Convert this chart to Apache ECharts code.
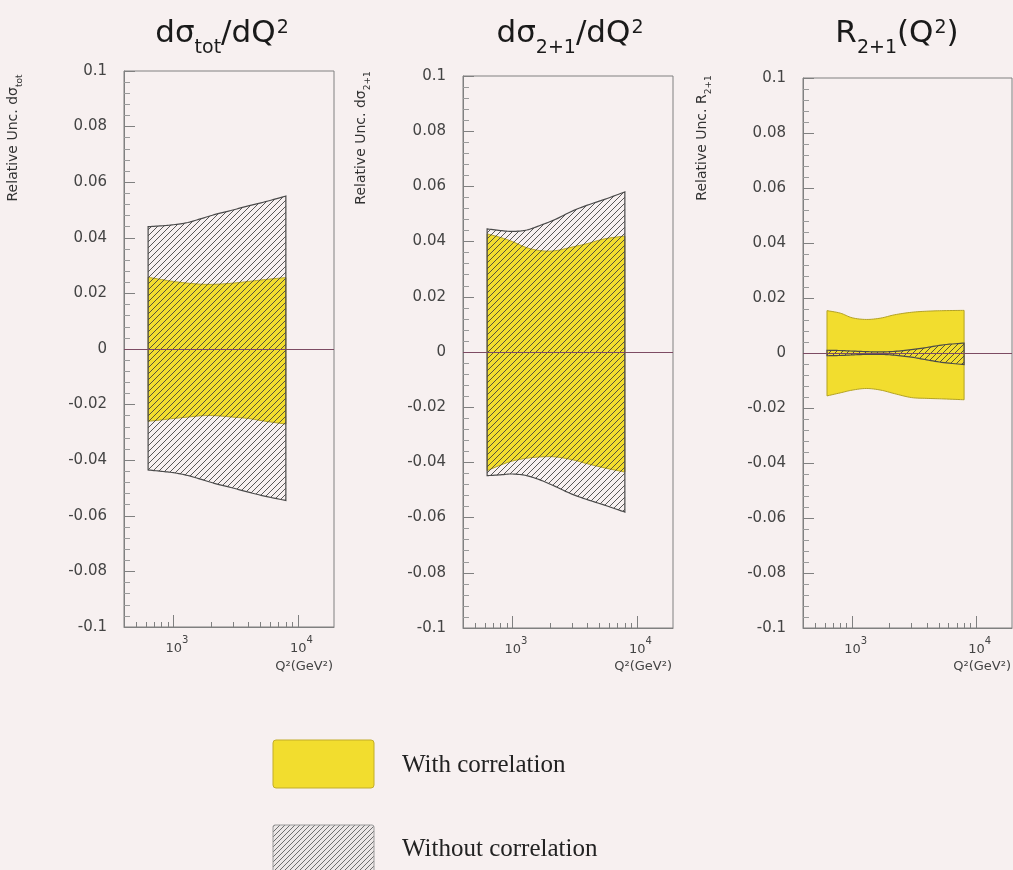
<!DOCTYPE html>
<html>
<head>
<meta charset="utf-8">
<script src="https://cdn.jsdelivr.net/npm/echarts@6.0.0/dist/echarts.min.js"></script>
<style>
html,body{margin:0;padding:0;background:#f7f0f0;}
#chart{width:1013px;height:870px;}
</style>
</head>
<body>
<div id="chart"></div>
<script>
// ---------------- data ----------------
// Q^2 sampling points (GeV^2)
const q2 = [625, 800, 1000, 1300, 1700, 2200, 3000, 4000, 5500, 8000];

// d sigma_tot / dQ^2
const totWithHi    = [0.0258, 0.0250, 0.0243, 0.0237, 0.0233, 0.0233, 0.0237, 0.0243, 0.0250, 0.0257];
const totWithLo    = [-0.0260, -0.0255, -0.0250, -0.0245, -0.0240, -0.0240, -0.0245, -0.0250, -0.0260, -0.0270];
const totWithoutHi = [0.0440, 0.0443, 0.0447, 0.0455, 0.0470, 0.0485, 0.0500, 0.0515, 0.0530, 0.0550];
const totWithoutLo = [-0.0435, -0.0440, -0.0445, -0.0455, -0.0470, -0.0485, -0.0500, -0.0515, -0.0530, -0.0545];

// d sigma_2+1 / dQ^2
const dijWithHi    = [0.0428, 0.0415, 0.0400, 0.0378, 0.0367, 0.0367, 0.0380, 0.0393, 0.0410, 0.0420];
const dijWithLo    = [-0.0430, -0.0410, -0.0395, -0.0385, -0.0380, -0.0380, -0.0390, -0.0405, -0.0420, -0.0435];
const dijWithoutHi = [0.0446, 0.0440, 0.0437, 0.0442, 0.0460, 0.0480, 0.0510, 0.0532, 0.0553, 0.0580];
const dijWithoutLo = [-0.0448, -0.0445, -0.0442, -0.0448, -0.0465, -0.0487, -0.0515, -0.0535, -0.0555, -0.0580];

// R_2+1(Q^2)
const rWithHi    = [0.0154, 0.0145, 0.0128, 0.0122, 0.0127, 0.0139, 0.0148, 0.0152, 0.0154, 0.0155];
const rWithLo    = [-0.0156, -0.0145, -0.0135, -0.0129, -0.0135, -0.0148, -0.0162, -0.0165, -0.0167, -0.0170];
const rWithoutHi = [0.0010, 0.0009, 0.0007, 0.0005, 0.0004, 0.0006, 0.0012, 0.0020, 0.0030, 0.0036];
const rWithoutLo = [-0.0010, -0.0009, -0.0007, -0.0005, -0.0005, -0.0008, -0.0015, -0.0025, -0.0035, -0.0042];

// axes
const xRange = [400, 19500];
const xMajorTicks = [1000, 10000];
const xMinorTicks = [500, 600, 700, 800, 900, 2000, 3000, 4000, 5000, 6000, 7000, 8000, 9000];
const yMin = -0.1, yMax = 0.1, yStep = 0.02;
const xAxisTitle = 'Q²(GeV²)';
const legendLabels = ['With correlation', 'Without correlation'];

// ---------------- styling ----------------
const SANS = 'DejaVu Sans';
const SERIF = 'Liberation Serif';
const YELLOW = '#f2dd2e';
const YELLOW_EDGE = '#b3a224';
const HATCH_EDGE = '#4a4a4a';
const AXIS_COL = '#808080';
const TXT = '#444';

function makeHatch(size, color, lw, bg) {
  const c = document.createElement('canvas');
  c.width = size; c.height = size;
  const ctx = c.getContext('2d');
  if (bg) { ctx.fillStyle = bg; ctx.fillRect(0, 0, size, size); }
  ctx.strokeStyle = color; ctx.lineWidth = lw;
  ctx.beginPath();
  ctx.moveTo(-1, size + 1); ctx.lineTo(size + 1, -1);
  ctx.moveTo(-1, 1); ctx.lineTo(1, -1);
  ctx.moveTo(size - 1, size + 1); ctx.lineTo(size + 1, size - 1);
  ctx.stroke();
  return c;
}
const hatchBand = { image: makeHatch(6, 'rgba(60,60,60,0.85)', 1, null), repeat: 'repeat' };
const hatchLegend = { image: makeHatch(5, '#6e6e6e', 1, '#ebe6e6'), repeat: 'repeat' };

// Catmull-Rom smoothing of pixel points (drawing style only; passes through every point)
function smoothPts(pts, steps) {
  const n = pts.length;
  if (n < 3) return pts.slice();
  const out = [];
  for (let i = 0; i < n - 1; i++) {
    const p0 = pts[Math.max(i - 1, 0)], p1 = pts[i], p2 = pts[i + 1], p3 = pts[Math.min(i + 2, n - 1)];
    for (let s = 0; s < steps; s++) {
      const t = s / steps, t2 = t * t, t3 = t2 * t;
      const f = (a, b, c, d) => 0.5 * (2 * b + (-a + c) * t + (2 * a - 5 * b + 4 * c - d) * t2 + (-a + 3 * b - 3 * c + d) * t3);
      out.push([f(p0[0], p1[0], p2[0], p3[0]), f(p0[1], p1[1], p2[1], p3[1])]);
    }
  }
  out.push(pts[n - 1]);
  return out;
}

function bandRenderer(fill, stroke, lw) {
  return function (params, api) {
    if (params.dataIndexInside !== 0) return null;
    const n = params.dataInsideLength;
    const up = [], dn = [];
    for (let j = 0; j < n; j++) {
      up.push(api.coord([api.value(0, j), api.value(2, j)]));
      dn.push(api.coord([api.value(0, j), api.value(1, j)]));
    }
    const U = smoothPts(up, 8), D = smoothPts(dn, 8);
    return {
      type: 'polygon', silent: true,
      shape: { points: U.concat(D.slice().reverse()) },
      style: { fill: fill, stroke: stroke, lineWidth: lw }
    };
  };
}

const panels = [
  { grid: { left: 124, top: 71, width: 210, height: 556 },
    title: '{a|dσ}{s|tot}{a|/dQ}{p|2}', titleX: 222,
    yName: '{a|Relative Unc. dσ}{s|tot}', yNameX: 13,
    withHi: totWithHi, withLo: totWithLo, woHi: totWithoutHi, woLo: totWithoutLo },
  { grid: { left: 463, top: 76, width: 210, height: 552 },
    title: '{a|dσ}{s|2+1}{a|/dQ}{p|2}', titleX: 570,
    yName: '{a|Relative Unc. dσ}{s|2+1}', yNameX: 361,
    withHi: dijWithHi, withLo: dijWithLo, woHi: dijWithoutHi, woLo: dijWithoutLo },
  { grid: { left: 803, top: 78, width: 209, height: 550 },
    title: '{a|R}{s|2+1}{a|(Q}{p|2}{a|)}', titleX: 897,
    yName: '{a|Relative Unc. R}{s|2+1}', yNameX: 702,
    withHi: rWithHi, withLo: rWithLo, woHi: rWithoutHi, woLo: rWithoutLo }
];

const titleRich = {
  a: { fontFamily: SANS, fontSize: 31, lineHeight: 48, verticalAlign: 'middle', color: '#1a1a1a' },
  s: { fontFamily: SANS, fontSize: 19, verticalAlign: 'bottom', color: '#1a1a1a' },
  p: { fontFamily: SANS, fontSize: 19, verticalAlign: 'top', padding: [9, 0, 0, 1], color: '#1a1a1a' }
};
const nameRich = {
  a: { fontFamily: SANS, fontSize: 14, lineHeight: 22, verticalAlign: 'middle', fill: '#333' },
  s: { fontFamily: SANS, fontSize: 9, lineHeight: 9, verticalAlign: 'bottom', fill: '#333' }
};

const lg = Math.log10;

// ---------------- option ----------------
const grids = [], xAxes = [], yAxes = [], series = [], titles = [], graphics = [];

panels.forEach((p, i) => {
  grids.push(Object.assign({ show: true, borderColor: AXIS_COL, borderWidth: 1,
    backgroundColor: 'transparent', outerBoundsMode: 'none', containLabel: false }, p.grid));

  // main x axis: decades + labels
  xAxes.push({
    type: 'value', gridIndex: i, min: lg(xRange[0]), max: lg(xRange[1]), position: 'bottom',
    axisLine: { show: true, onZero: false, lineStyle: { color: AXIS_COL, width: 1 } },
    axisTick: { show: true, inside: true, length: 12, customValues: xMajorTicks.map(lg),
                lineStyle: { color: AXIS_COL } },
    splitLine: { show: false },
    axisLabel: {
      customValues: xMajorTicks.map(lg), margin: 8,
      formatter: v => '{b|10}{s|' + Math.round(v) + '}',
      rich: {
        b: { fontFamily: SANS, fontSize: 13, lineHeight: 28, verticalAlign: 'middle', padding: [0, 0, 0, 7], color: TXT },
        s: { fontFamily: SANS, fontSize: 10, lineHeight: 10, verticalAlign: 'top', color: TXT }
      }
    }
  });
  // minor x ticks
  xAxes.push({
    type: 'value', gridIndex: i, min: lg(xRange[0]), max: lg(xRange[1]), position: 'bottom', offset: 0,
    axisLine: { show: false, onZero: false },
    axisTick: { show: true, inside: true, length: 5, customValues: xMinorTicks.map(lg),
                lineStyle: { color: AXIS_COL } },
    axisLabel: { show: false }, splitLine: { show: false }
  });

  yAxes.push({
    type: 'value', gridIndex: i, min: yMin, max: yMax, interval: yStep,
    axisLine: { show: true, onZero: false, lineStyle: { color: AXIS_COL, width: 1 } },
    axisTick: { show: true, inside: true, length: 11, lineStyle: { color: AXIS_COL } },
    minorTick: { show: true, splitNumber: 5, length: 6, lineStyle: { color: '#9a9a9a' } },
    splitLine: { show: false },
    axisLabel: { margin: 17, fontFamily: SANS, fontSize: 15, color: TXT }
  });

  const rows = (lo, hi) => q2.map((q, k) => [lg(q), lo[k], hi[k]]);

  // yellow band (with correlation)
  series.push({ type: 'custom', name: legendLabels[0], xAxisIndex: 2 * i, yAxisIndex: i,
    silent: true, encode: { x: 0, y: [1, 2] },
    renderItem: bandRenderer(YELLOW, YELLOW_EDGE, 1),
    data: rows(p.withLo, p.withHi) });

  // hatched band (without correlation)
  series.push({ type: 'custom', name: legendLabels[1], xAxisIndex: 2 * i, yAxisIndex: i,
    silent: true, encode: { x: 0, y: [1, 2] },
    renderItem: bandRenderer(hatchBand, HATCH_EDGE, 1.2),
    data: rows(p.woLo, p.woHi),
    markLine: { silent: true, symbol: ['none', 'none'], label: { show: false }, animation: false,
      lineStyle: { color: '#7d4b63', width: 1, type: 'solid' }, data: [{ yAxis: 0 }] } });

  titles.push({ text: p.title, left: p.titleX, top: 10, padding: 0, textAlign: 'center',
    textVerticalAlign: 'top', textStyle: { fontFamily: SANS, fontWeight: 'normal', rich: titleRich } });

  graphics.push({ type: 'text', x: p.yNameX, y: 138, rotation: Math.PI / 2, silent: true,
    style: { legacy: false, text: p.yName, rich: nameRich, align: 'center', verticalAlign: 'middle',
             font: '14px "' + SANS + '"', fill: '#333' } });

  graphics.push({ type: 'text', x: p.grid.left + p.grid.width - 1, y: 667, silent: true,
    style: { legacy: false, text: xAxisTitle, align: 'right', verticalAlign: 'middle',
             font: '13px "' + SANS + '"', fill: TXT } });
});

// legend boxes
graphics.push({ type: 'rect', silent: true, shape: { x: 273, y: 740, width: 101, height: 48, r: 3 },
  style: { fill: YELLOW, stroke: '#c2ad2a', lineWidth: 1 } });
graphics.push({ type: 'text', x: 402, y: 765, silent: true,
  style: { legacy: false, text: legendLabels[0], align: 'left', verticalAlign: 'middle',
           font: '25px "' + SERIF + '"', fill: '#222' } });
graphics.push({ type: 'rect', silent: true, shape: { x: 273, y: 825, width: 101, height: 50, r: 2 },
  style: { fill: hatchLegend, stroke: '#9a9a9a', lineWidth: 1 } });
graphics.push({ type: 'text', x: 402, y: 849, silent: true,
  style: { legacy: false, text: legendLabels[1], align: 'left', verticalAlign: 'middle',
           font: '25px "' + SERIF + '"', fill: '#222' } });

const chart = echarts.init(document.getElementById('chart'), null, { renderer: 'canvas' });
chart.setOption({
  backgroundColor: '#f7f0f0',
  animation: false,
  title: titles,
  grid: grids,
  xAxis: xAxes,
  yAxis: yAxes,
  series: series,
  graphic: graphics
});
</script>
</body>
</html>
